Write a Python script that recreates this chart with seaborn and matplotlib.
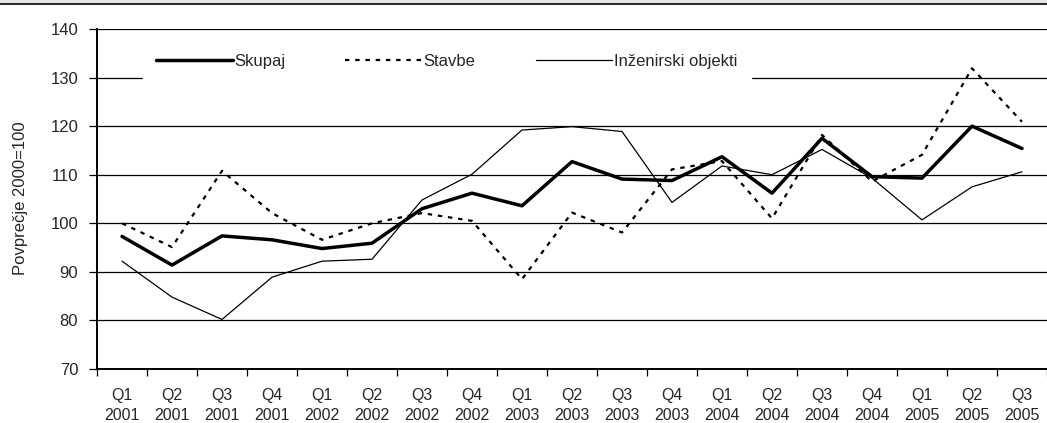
import numpy as np
import pandas as pd
import seaborn as sns
import matplotlib.pyplot as plt
from matplotlib.lines import Line2D
from matplotlib.patches import Rectangle

quarters = ["Q1", "Q2", "Q3", "Q4"] * 4 + ["Q1", "Q2", "Q3"]
years = ["2001"] * 4 + ["2002"] * 4 + ["2003"] * 4 + ["2004"] * 4 + ["2005"] * 3
skupaj = [97.3, 91.4, 97.4, 96.6, 94.8, 95.9, 103.0, 106.2, 103.6, 112.7,
          109.1, 108.8, 113.7, 106.2, 117.5, 109.6, 109.3, 120.0, 115.4]
stavbe = [100.0, 95.1, 110.8, 102.1, 96.6, 100.0, 102.1, 100.5, 88.5, 102.2,
          98.1, 111.1, 112.8, 101.0, 118.2, 108.6, 114.1, 131.9, 120.9]
inzenirski = [92.2, 84.8, 80.2, 88.9, 92.2, 92.6, 104.8, 110.1, 119.2, 119.9,
              118.9, 104.3, 111.8, 110.0, 115.2, 109.3, 100.7, 107.5, 110.6]
y_ticks = [70, 80, 90, 100, 110, 120, 130, 140]

labels = [f"{q}\n{y}" for q, y in zip(quarters, years)]
df = pd.DataFrame({
    "pos": np.arange(len(labels)),
    "Skupaj": skupaj,
    "Stavbe": stavbe,
    "Inženirski objekti": inzenirski,
})

sns.set_style("white")
plt.rcParams["font.family"] = ["Liberation Sans", "DejaVu Sans"]

W, H = 1047, 423
fig = plt.figure(figsize=(W / 100, H / 100), dpi=100)
# plot area in pixels: left 97, right 1047, top 29, bottom 369
ax = fig.add_axes([97 / W, (H - 369) / H, (W - 97) / W, 340 / H])

# top band of the page
fig.add_artist(Rectangle((0, 1 - 3 / H), 1, 3 / H, transform=fig.transFigure,
                         facecolor="#e6e6e6", edgecolor="none"))
fig.add_artist(Line2D([0, 1], [1 - 4.5 / H] * 2, transform=fig.transFigure,
                      color="black", lw=1.2))

for v in y_ticks[1:]:
    ax.axhline(v, color="black", lw=0.9, zorder=1)

sns.lineplot(data=df, x="pos", y="Skupaj", ax=ax, color="black", lw=2.5,
             label="Skupaj", zorder=4)
sns.lineplot(data=df, x="pos", y="Stavbe", ax=ax, color="black", lw=1.6,
             linestyle=(0, (2, 2.6)), label="Stavbe", zorder=3)
sns.lineplot(data=df, x="pos", y="Inženirski objekti", ax=ax, color="black",
             lw=0.9, label="Inženirski objekti", zorder=3)

ax.set_xlim(-0.5, -0.5 + 950 / 50.2)
ax.set_ylim(70, 140)
ax.set_yticks(y_ticks)
ax.set_xticks(df["pos"])
ax.set_xticklabels(labels)
ax.set_xticks(np.arange(-0.5, len(labels)), minor=True)
ax.tick_params(axis="x", which="major", length=0, pad=14, labelsize=11.5)
ax.tick_params(axis="x", which="minor", length=5, width=0.9, direction="out",
               color="black", bottom=True)
ax.tick_params(axis="y", length=6, width=0.9, direction="out", color="black",
               left=True, pad=7.5, labelsize=12)
for t in ax.get_xticklabels():
    t.set_linespacing(1.42)

ax.set_xlabel("")
ax.set_ylabel("Povprečje 2000=100", fontsize=12)
ax.yaxis.set_label_coords(-0.0726, 0.503)

for s in ["top", "right"]:
    ax.spines[s].set_visible(False)
for s in ["left", "bottom"]:
    ax.spines[s].set_color("black")
    ax.spines[s].set_linewidth(1.4)

leg = ax.legend(loc="upper left", bbox_to_anchor=(0.048, 0.965), ncol=3,
                frameon=True, fancybox=False, borderaxespad=0, borderpad=0.8,
                handlelength=4.6, handletextpad=0.1, columnspacing=3.6,
                fontsize=12)
leg.get_frame().set_facecolor("white")
leg.get_frame().set_edgecolor("white")
leg.get_frame().set_alpha(1)

fig.savefig("out.png", dpi=100)
